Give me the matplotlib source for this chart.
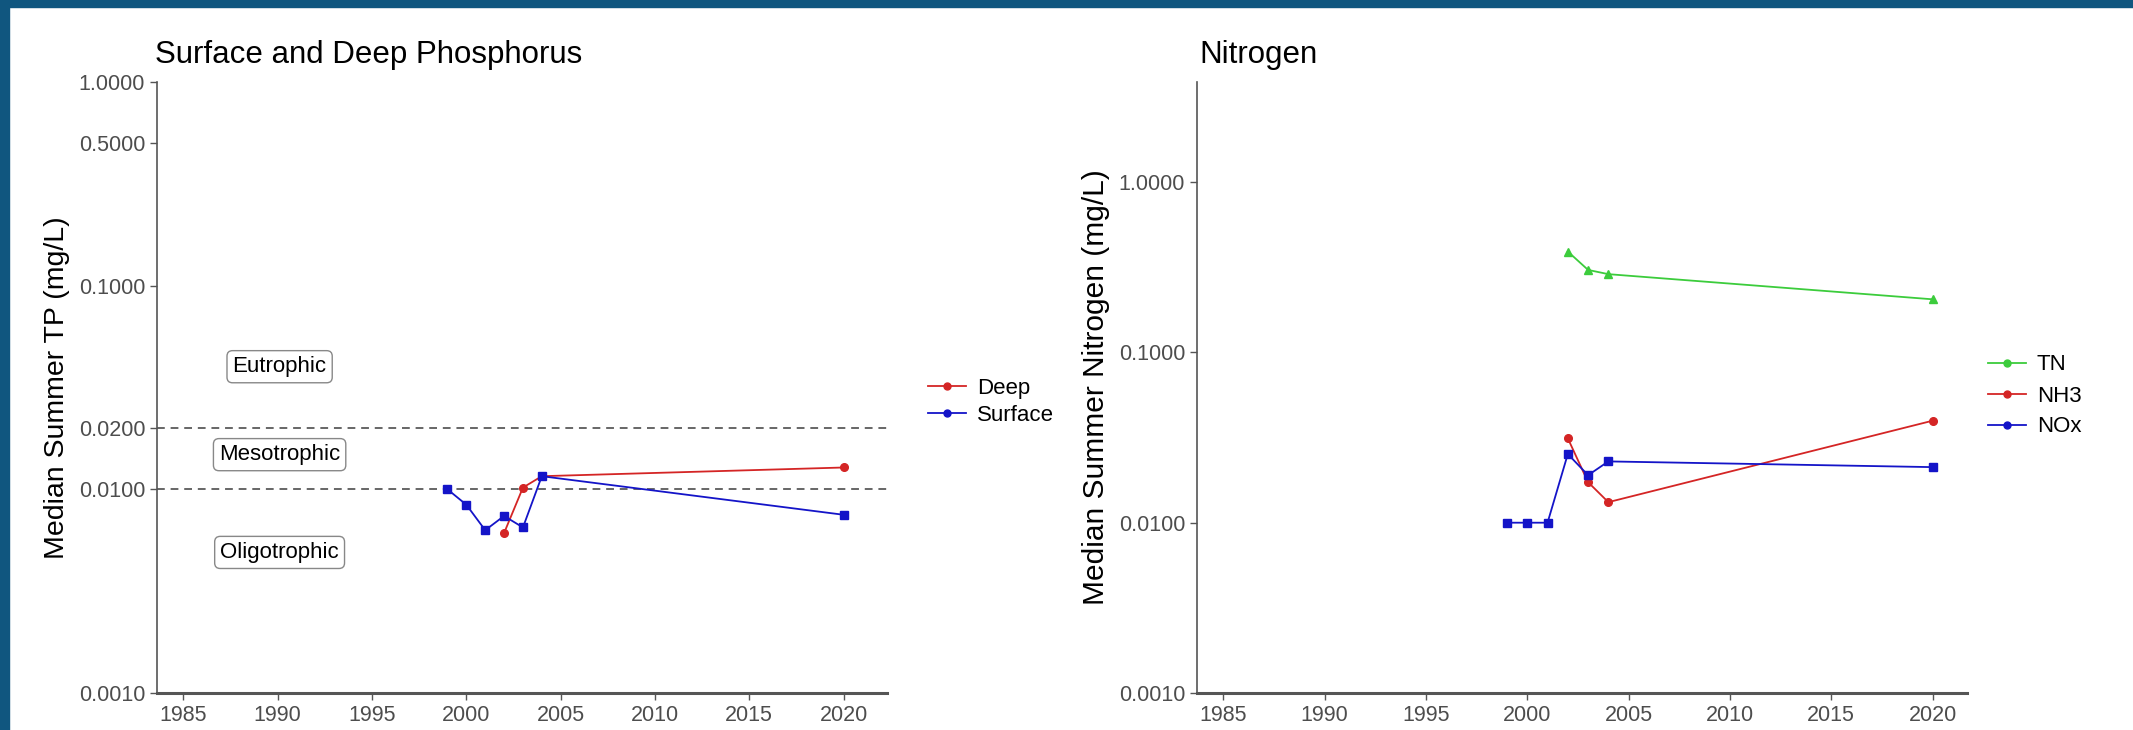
import numpy as np
import matplotlib.pyplot as plt
from matplotlib.ticker import FixedLocator, FixedFormatter, NullLocator

plt.rcParams['font.family'] = ['Liberation Sans', 'DejaVu Sans']

# --- phosphorus (mg/L) ---
deep_years = [2002, 2003, 2004, 2020]
deep_tp = [0.0061, 0.0102, 0.0116, 0.0128]
surf_years = [1999, 2000, 2001, 2002, 2003, 2004, 2020]
surf_tp = [0.0100, 0.0084, 0.0063, 0.0074, 0.0065, 0.0116, 0.0075]

# --- nitrogen (mg/L) ---
tn_years = [2002, 2003, 2004, 2020]
tn_vals = [0.391, 0.305, 0.288, 0.205]
nh3_years = [2002, 2003, 2004, 2020]
nh3_vals = [0.0313, 0.0173, 0.0132, 0.0397]
nox_years = [1999, 2000, 2001, 2002, 2003, 2004, 2020]
nox_vals = [0.0100, 0.0100, 0.0100, 0.0253, 0.0190, 0.0229, 0.0212]

year_ticks = [1985, 1990, 1995, 2000, 2005, 2010, 2015, 2020]
tp_ticks = [0.001, 0.01, 0.02, 0.1, 0.5, 1.0]
n_ticks = [0.001, 0.01, 0.1, 1.0]
trophic_bounds = [0.01, 0.02]
trophic_labels = ["Eutrophic", "Mesotrophic", "Oligotrophic"]
trophic_label_y = [0.040, 0.0148, 0.0049]

RED = "#d42525"
BLUE = "#1414c8"
GREEN = "#3ccc3c"
AXC = "#555555"
TXT = "#4d4d4d"

W, H = 2133, 730
fig = plt.figure(figsize=(W / 100, H / 100), dpi=100)
fig.patch.set_facecolor("white")

# dark frame around the picture
frame_c = "#10567f"
fig.add_artist(plt.Rectangle((0, 1 - 7 / H), 1, 7 / H, transform=fig.transFigure, color=frame_c, zorder=0))
fig.add_artist(plt.Rectangle((0, 0), 9 / W, 1, transform=fig.transFigure, color=frame_c, zorder=0))


def style_axis(ax, yticks):
    ax.set_yscale("log")
    for s in ["top", "right"]:
        ax.spines[s].set_visible(False)
    ax.spines["left"].set_color(AXC)
    ax.spines["bottom"].set_color(AXC)
    ax.spines["left"].set_linewidth(1.2)
    ax.spines["bottom"].set_linewidth(2.2)
    ax.yaxis.set_major_locator(FixedLocator(yticks))
    ax.yaxis.set_major_formatter(FixedFormatter([f"{t:.4f}" for t in yticks]))
    ax.yaxis.set_minor_locator(NullLocator())
    ax.set_xticks(year_ticks)
    ax.tick_params(axis="both", labelsize=15.5, colors=AXC, labelcolor=TXT, length=5, width=1)


# ---------------- left panel ----------------
ax1 = fig.add_axes([157 / W, 37 / H, 730 / W, 611 / H])
style_axis(ax1, tp_ticks)
ax1.set_xlim(1983.6, 2022.3)
ax1.set_ylim(0.001, 1.0)
for b in trophic_bounds:
    ax1.axhline(b, color="#666666", lw=1.4, ls=(0, (4, 3)), zorder=1)
ax1.plot(deep_years, deep_tp, color=RED, lw=1.3, marker="o", ms=5.5, label="Deep", zorder=3)
ax1.plot(surf_years, surf_tp, color=BLUE, lw=1.3, marker="s", ms=6, label="Surface", zorder=3)
for lab, yv in zip(trophic_labels, trophic_label_y):
    ax1.text(1990.1, yv, lab, fontsize=16, color="black", ha="center", va="center",
             bbox=dict(boxstyle="round,pad=0.25", fc="white", ec="#888888", lw=1))
ax1.set_title("Surface and Deep Phosphorus", fontsize=22.5, loc="left", x=-0.003, pad=14)
ax1.set_ylabel("Median Summer TP (mg/L)", fontsize=20.5, labelpad=6)
h1, l1 = ax1.get_legend_handles_labels()
fig.legend([plt.Line2D([], [], color=RED, marker="o", ms=5, lw=1.3),
            plt.Line2D([], [], color=BLUE, marker="o", ms=5, lw=1.3)], l1,
           loc="center left", bbox_to_anchor=(908 / W, 1 - 402 / H), frameon=False,
           fontsize=16, handlelength=1.7, handletextpad=0.5, labelspacing=0.25)

# ---------------- right panel ----------------
ax2 = fig.add_axes([1197 / W, 37 / H, 770 / W, 611 / H])
style_axis(ax2, n_ticks)
ax2.set_xlim(1983.7, 2021.7)
ax2.set_ylim(0.001, 3.87)
ax2.plot(tn_years, tn_vals, color=GREEN, lw=1.3, marker="^", ms=6, label="TN", zorder=3)
ax2.plot(nh3_years, nh3_vals, color=RED, lw=1.3, marker="o", ms=5.5, label="NH3", zorder=3)
ax2.plot(nox_years, nox_vals, color=BLUE, lw=1.3, marker="s", ms=6, label="NOx", zorder=3)
ax2.set_title("Nitrogen", fontsize=22.5, loc="left", x=0.003, pad=14)
ax2.set_ylabel("Median Summer Nitrogen (mg/L)", fontsize=21.5, labelpad=6)
fig.legend([plt.Line2D([], [], color=c, marker="o", ms=5, lw=1.3) for c in (GREEN, RED, BLUE)],
           ["TN", "NH3", "NOx"], loc="center left", bbox_to_anchor=(1968 / W, 1 - 396 / H),
           frameon=False, fontsize=16, handlelength=1.7, handletextpad=0.5, labelspacing=0.45)

fig.savefig("out.png", dpi=100)
